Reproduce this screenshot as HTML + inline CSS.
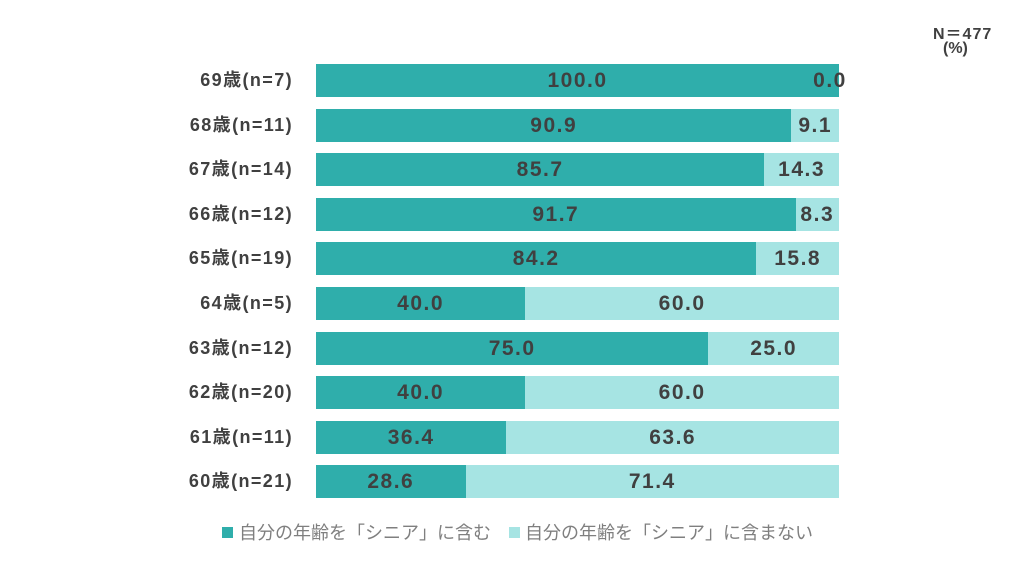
<!DOCTYPE html>
<html><head><meta charset="utf-8"><style>
body{margin:0;width:1024px;height:576px;background:#fff;position:relative;overflow:hidden;font-family:"Liberation Sans","Noto Sans CJK JP",sans-serif}
.lab{position:absolute;right:731px;font-weight:bold;font-size:18px;letter-spacing:1.4px;color:#404040;line-height:33px;white-space:nowrap}
.bar{position:absolute;height:33px}
.d{background:#2FAEAB}.l{background:#A6E4E3}
.v{position:absolute;font-weight:bold;font-size:21px;letter-spacing:1.5px;color:#404040;line-height:33px;text-align:center;transform:translateX(-50%);white-space:nowrap}
.sq{position:absolute;width:11px;height:11px;top:527px}
.lt{position:absolute;top:519px;font-size:18px;color:#7f7f7f;white-space:nowrap}
</style></head><body>
<div style="position:absolute;left:933px;top:20px;font-weight:bold;font-size:16px;letter-spacing:1px;color:#404040">N＝477</div>
<div style="position:absolute;left:943px;top:40px;font-weight:bold;font-size:16px;color:#404040">(%)</div>
<div id="c"></div>
<div class="sq d" style="left:222px"></div><div class="lt" style="left:239px">自分の年齢を「シニア」に含む</div>
<div class="sq l" style="left:509px"></div><div class="lt" style="left:525px">自分の年齢を「シニア」に含まない</div>
<script>
var d=[["69歳(n=7)",100,"100.0","0.0"],["68歳(n=11)",90.9,"90.9","9.1"],["67歳(n=14)",85.7,"85.7","14.3"],["66歳(n=12)",91.7,"91.7","8.3"],["65歳(n=19)",84.2,"84.2","15.8"],["64歳(n=5)",40,"40.0","60.0"],["63歳(n=12)",75,"75.0","25.0"],["62歳(n=20)",40,"40.0","60.0"],["61歳(n=11)",36.4,"36.4","63.6"],["60歳(n=21)",28.6,"28.6","71.4"]];
var h="",L=316,W=523;
d.forEach(function(r,i){var t=64+i*44.6,w=W*r[1]/100;
h+='<div class="lab" style="top:'+t+'px">'+r[0]+'</div>';
h+='<div class="bar d" style="left:'+L+'px;top:'+t+'px;width:'+w+'px"></div>';
h+='<div class="bar l" style="left:'+(L+w)+'px;top:'+t+'px;width:'+(W-w)+'px"></div>';
h+='<div class="v" style="left:'+(L+w/2)+'px;top:'+t+'px">'+r[2]+'</div>';
var c=r[1]==100?830:L+w+(W-w)/2;
h+='<div class="v" style="left:'+c+'px;top:'+t+'px">'+r[3]+'</div>';});
document.getElementById("c").innerHTML=h;
</script>
</body></html>
